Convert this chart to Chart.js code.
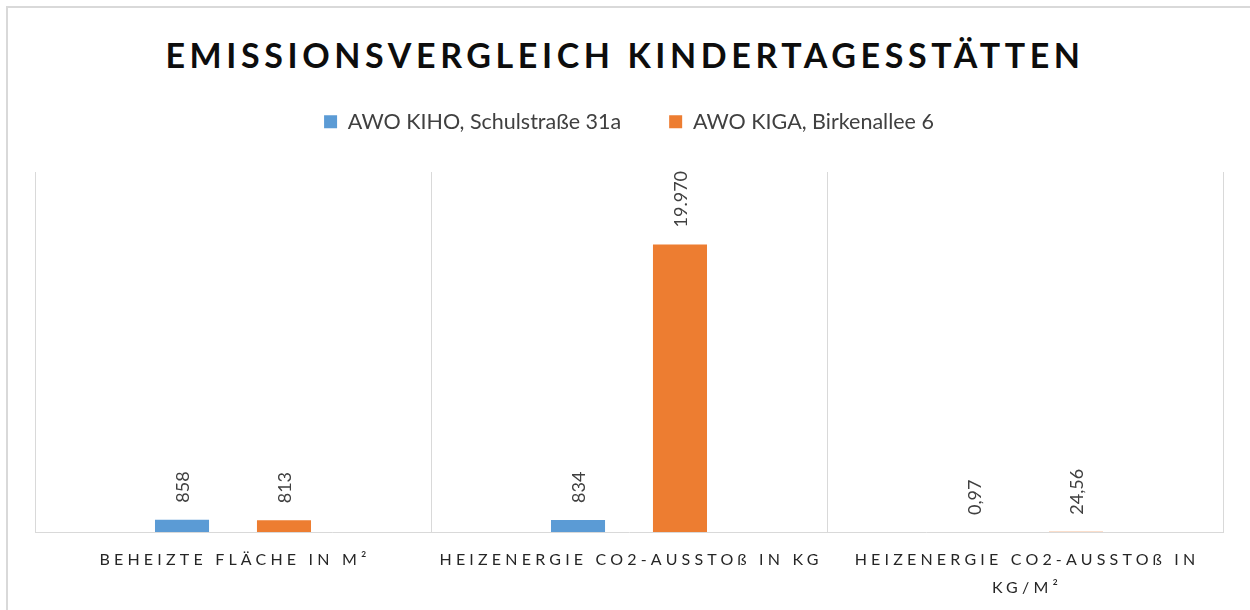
<!DOCTYPE html>
<html lang="de">
<head>
<meta charset="utf-8">
<title>Emissionsvergleich Kindertagesstätten</title>
<script src="https://cdn.jsdelivr.net/npm/chart.js@4"></script>
<style>
    html, body { margin: 0; padding: 0; background: #fff; }
    #wrap { position: relative; width: 1250px; height: 610px; overflow: hidden; }
    #frame { position: absolute; left: 6px; top: 6px; width: 1300px; height: 700px;
             border-top: 2px solid #d9d9d9; border-left: 2px solid #d9d9d9; }
    #title { position: absolute; left: 0; top: 30px; width: 1250px; text-align: center;
             font-family: Lato, sans-serif; font-weight: 700; font-size: 34px; line-height: 50px;
             letter-spacing: 4.6px; color: #0d0d0d; }
    canvas { position: absolute; left: 0; top: 0; }
</style>
</head>
<body>
<div id="wrap">
    <div id="frame"></div>
    <div id="title">EMISSIONSVERGLEICH KINDERTAGESSTÄTTEN</div>
    <canvas id="chart" width="1250" height="610"></canvas>
</div>
<script>
// Kategorien (x-Achse), mehrzeilig als Array
const categories = [
    ['BEHEIZTE FLÄCHE IN M²'],
    ['HEIZENERGIE CO2-AUSSTOß IN KG'],
    ['HEIZENERGIE CO2-AUSSTOß IN', 'KG/M²']
];

// Reihen
const seriesNames = ['AWO KIHO, Schulstraße 31a', 'AWO KIGA, Birkenallee 6'];
const kihoValues = [858, 834, 0.97];
const kigaValues = [813, 19970, 24.56];

// y-Achse (unsichtbar)
const yMax = 25000;

const textColor = '#404040';
const fmt = new Intl.NumberFormat('de-DE', { maximumFractionDigits: 2 });

// Datenbeschriftungen senkrecht über den Balken
const barLabels = {
    id: 'barLabels',
    afterDatasetsDraw(chart) {
        const ctx = chart.ctx;
        ctx.save();
        ctx.font = '18px Lato, sans-serif';
        ctx.fillStyle = textColor;
        ctx.textAlign = 'left';
        ctx.textBaseline = 'middle';
        chart.data.datasets.forEach((ds, i) => {
            chart.getDatasetMeta(i).data.forEach((bar, j) => {
                ctx.save();
                ctx.translate(bar.x, bar.y - 17);
                ctx.rotate(-Math.PI / 2);
                ctx.fillText(fmt.format(ds.data[j]), 0, 1);
                ctx.restore();
            });
        });
        ctx.restore();
    }
};

// Kategorienbeschriftung mit Sperrung
const spacedTicks = {
    id: 'spacedTicks',
    afterDraw(chart) {
        const ctx = chart.ctx;
        const xScale = chart.scales.x;
        ctx.save();
        ctx.font = '16px Lato, sans-serif';
        ctx.fillStyle = '#262626';
        ctx.textAlign = 'center';
        ctx.textBaseline = 'middle';
        if ('letterSpacing' in ctx) ctx.letterSpacing = '4.2px';
        categories.forEach((lines, i) => {
            const x = xScale.getPixelForValue(i);
            lines.forEach((line, k) => {
                ctx.fillText(line, x + 2, chart.chartArea.bottom + 28 + k * 28);
            });
        });
        ctx.restore();
    }
};

new Chart(document.getElementById('chart'), {
    type: 'bar',
    data: {
        labels: categories,
        datasets: [
            {
                label: seriesNames[0],
                data: kihoValues,
                backgroundColor: '#5b9bd5',
                categoryPercentage: 0.515,
                barPercentage: 0.53
            },
            {
                label: seriesNames[1],
                data: kigaValues,
                backgroundColor: '#ed7d31',
                categoryPercentage: 0.515,
                barPercentage: 0.53
            }
        ]
    },
    options: {
        responsive: false,
        animation: false,
        layout: {
            padding: { top: 63, left: 35, right: 27, bottom: 78 }
        },
        plugins: {
            legend: {
                position: 'top',
                labels: {
                    font: { family: 'Lato, sans-serif', size: 21.5 },
                    color: textColor,
                    boxWidth: 13,
                    boxHeight: 13,
                    padding: 48
                }
            },
            // Abstandhalter zwischen Legende und Diagrammfläche
            subtitle: {
                display: true,
                text: ' ',
                weight: 500,
                padding: 0,
                font: { size: 10, lineHeight: '29.5px' }
            },
            tooltip: { enabled: false }
        },
        scales: {
            x: {
                ticks: { display: false },
                grid: { color: '#d9d9d9', lineWidth: 1, drawTicks: false, offset: true },
                border: { display: true, color: '#d9d9d9' }
            },
            y: {
                display: false,
                min: 0,
                max: yMax
            }
        }
    },
    plugins: [barLabels, spacedTicks]
});
</script>
</body>
</html>
